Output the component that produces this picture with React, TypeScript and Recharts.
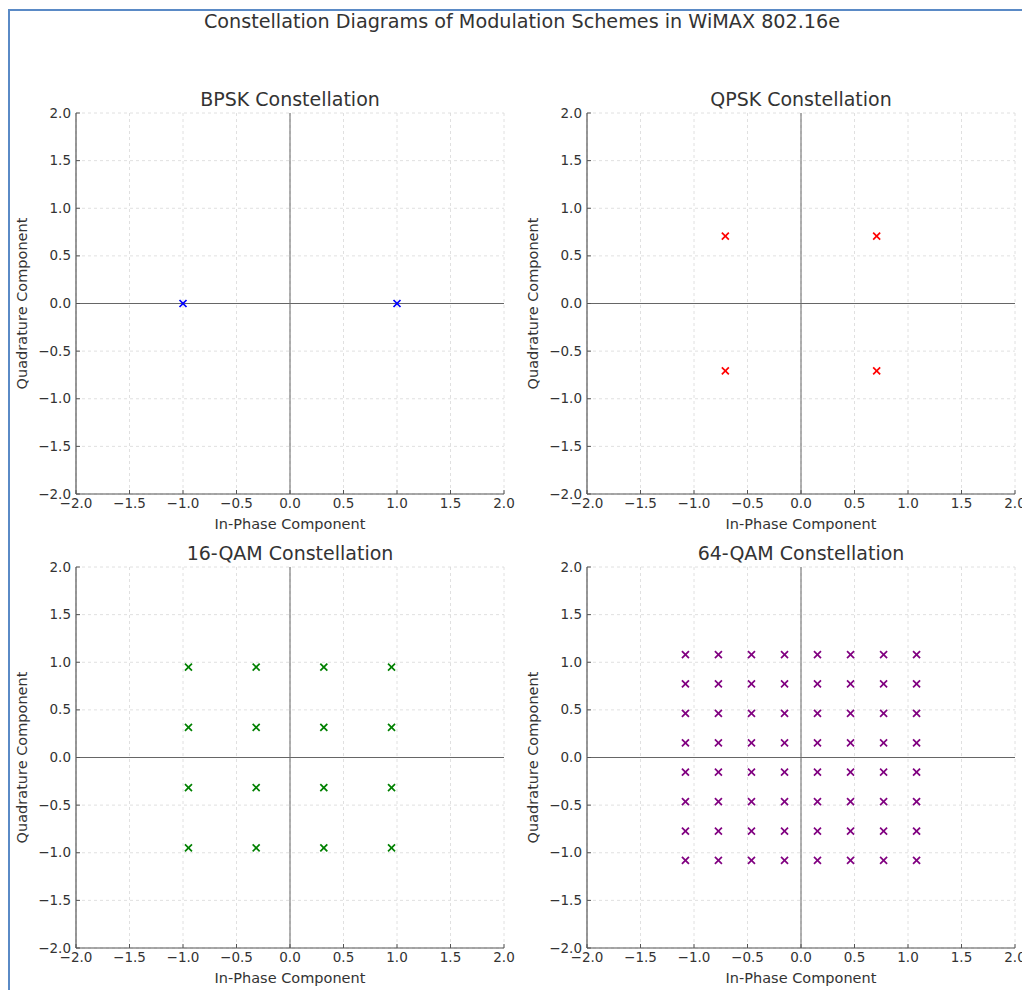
import React from 'react'
import {
  ScatterChart,
  Scatter,
  XAxis,
  YAxis,
  CartesianGrid,
  ReferenceLine
} from 'recharts'

// axis ticks shared by all four panels
const ticks = [-2, -1.5, -1, -0.5, 0, 0.5, 1, 1.5, 2]

// BPSK: two points on the in-phase axis
const bpskI = [-1, 1]
const bpskQ = [0, 0]

// QPSK levels (1/sqrt2)
const qpskLevels = [-0.707, 0.707]

// 16-QAM levels (±1, ±3 over sqrt10)
const qam16Levels = [-0.949, -0.316, 0.316, 0.949]

// 64-QAM levels (±1, ±3, ±5, ±7 over sqrt42)
const qam64Levels = [-1.08, -0.772, -0.463, -0.154, 0.154, 0.463, 0.772, 1.08]

const grid = (levels: number[]) => {
  const pts: { x: number; y: number }[] = []
  levels.forEach((i) => levels.forEach((q) => pts.push({ x: i, y: q })))
  return pts
}

const panels = [
  {
    title: 'BPSK Constellation',
    color: '#0000ff',
    data: bpskI.map((v, k) => ({ x: v, y: bpskQ[k] })),
    left: 6,
    top: 73
  },
  { title: 'QPSK Constellation', color: '#ff0000', data: grid(qpskLevels), left: 517, top: 73 },
  { title: '16-QAM Constellation', color: '#008000', data: grid(qam16Levels), left: 6, top: 527 },
  { title: '64-QAM Constellation', color: '#800080', data: grid(qam64Levels), left: 517, top: 527 }
]

const fmt = (v: number) => v.toFixed(1).replace('-', '\u2212')
const FONT = '"DejaVu Sans", sans-serif'
const TXT = '#333'

const XTick = (props: any) => {
  const { x, y, payload } = props
  return (
    <g>
      <line x1={x} y1={y} x2={x} y2={y - 4} stroke="#555" strokeWidth={1} />
      <text x={x} y={y + 14} textAnchor="middle" fontSize={13.5} fill={TXT} fontFamily={FONT}>
        {fmt(payload.value)}
      </text>
    </g>
  )
}

const YTick = (props: any) => {
  const { x, y, payload } = props
  return (
    <g>
      <line x1={x} y1={y} x2={x + 4} y2={y} stroke="#555" strokeWidth={1} />
      <text x={x - 5} y={y + 4.5} textAnchor="end" fontSize={13.5} fill={TXT} fontFamily={FONT}>
        {fmt(payload.value)}
      </text>
    </g>
  )
}

const Cross = (color: string) => (props: any) => {
  const { cx, cy } = props
  const r = 3.5
  return (
    <g stroke={color} strokeWidth={1.7}>
      <line x1={cx - r} y1={cy - r} x2={cx + r} y2={cy + r} />
      <line x1={cx - r} y1={cy + r} x2={cx + r} y2={cy - r} />
    </g>
  )
}

function Panel({ p }: { p: (typeof panels)[number] }) {
  return (
    <div style={{ position: 'absolute', left: p.left, top: p.top }}>
      <div
        style={{
          position: 'absolute',
          left: 70,
          width: 428,
          top: 13,
          textAlign: 'center',
          fontSize: 19,
          lineHeight: '26px',
          color: TXT,
          fontFamily: FONT
        }}
      >
        {p.title}
      </div>
      <ScatterChart width={518} height={466} margin={{ top: 40, right: 20, bottom: 0, left: 20 }}>
        <CartesianGrid stroke="#d8d8d8" strokeDasharray="3 3" strokeWidth={0.8} />
        <XAxis
          type="number"
          dataKey="x"
          domain={[-2, 2]}
          ticks={ticks}
          interval={0}
          allowDataOverflow
          height={45}
          tickSize={0}
          tickMargin={0}
          tickLine={false}
          tick={<XTick />}
          axisLine={{ stroke: '#555', strokeWidth: 1.2 }}
          label={{
            value: 'In-Phase Component',
            position: 'insideBottom',
            offset: 10,
            style: { fontSize: 14.5, fill: TXT, fontFamily: FONT }
          }}
        />
        <YAxis
          type="number"
          dataKey="y"
          domain={[-2, 2]}
          ticks={ticks}
          interval={0}
          allowDataOverflow
          width={50}
          tickSize={0}
          tickMargin={0}
          tickLine={false}
          tick={<YTick />}
          axisLine={{ stroke: '#555', strokeWidth: 1.2 }}
          label={{
            value: 'Quadrature Component',
            angle: -90,
            position: 'insideLeft',
            offset: -4,
            style: { fontSize: 14.5, fill: TXT, fontFamily: FONT, textAnchor: 'middle' }
          }}
        />
        <ReferenceLine x={0} stroke="#666" strokeWidth={1} />
        <ReferenceLine y={0} stroke="#666" strokeWidth={1} />
        <Scatter data={p.data} shape={Cross(p.color)} isAnimationActive={false} />
      </ScatterChart>
    </div>
  )
}

export default function App() {
  return (
    <div
      style={{
        position: 'fixed',
        left: 0,
        top: 0,
        width: 1022,
        height: 990,
        overflow: 'hidden',
        background: '#fff'
      }}
    >
      <div
        style={{
          position: 'absolute',
          left: 8,
          top: 9,
          width: 1100,
          height: 1100,
          borderLeft: '2px solid #5a8ac6',
          borderTop: '2px solid #5a8ac6'
        }}
      />
      <div
        style={{
          position: 'absolute',
          left: 10,
          width: 1024,
          top: 9,
          textAlign: 'center',
          fontSize: 19.2,
          lineHeight: '26px',
          color: TXT,
          fontFamily: FONT
        }}
      >
        Constellation Diagrams of Modulation Schemes in WiMAX 802.16e
      </div>
      {panels.map((p) => (
        <Panel key={p.title} p={p} />
      ))}
    </div>
  )
}
